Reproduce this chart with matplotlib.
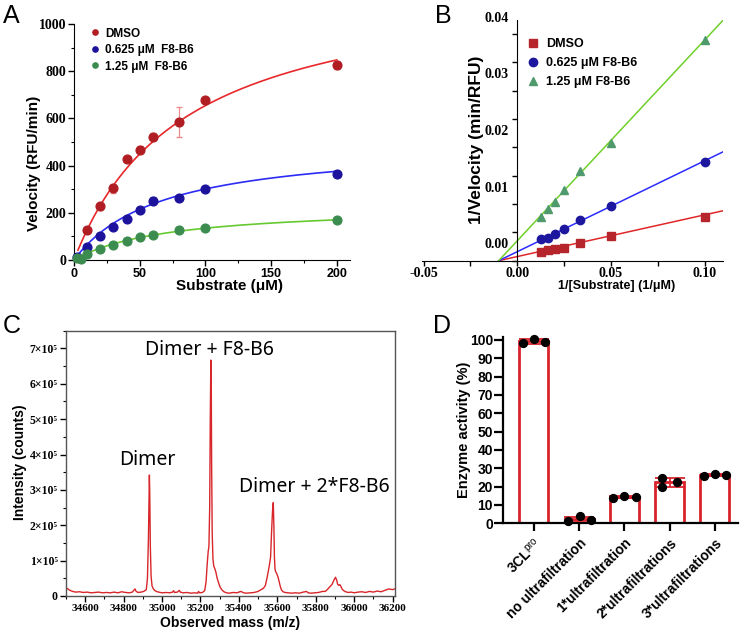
import numpy as np
import matplotlib
matplotlib.use('Agg')
import matplotlib.pyplot as plt
from matplotlib.ticker import MultipleLocator

plt.rcParams['font.family'] = ['Liberation Sans', 'DejaVu Sans']
plt.rcParams['mathtext.fontset'] = 'custom'
plt.rcParams['mathtext.rm'] = 'Liberation Sans'
plt.rcParams['mathtext.bf'] = 'Liberation Sans:bold'

W, H = 740, 633
SERIF = ['Liberation Serif', 'DejaVu Serif']

# ---------------- panel A : Michaelis-Menten ----------------
s_dmso = [10, 20, 30, 40, 50, 60, 80, 100, 200]
v_dmso = [128, 228, 303, 428, 468, 522, 585, 677, 826]
e_dmso = [6, 15, 18, 8, 15, 15, 62, 10, 18]
s_0625 = [2.5, 10, 20, 30, 40, 50, 60, 80, 100, 200]
v_0625 = [12, 55, 102, 140, 175, 210, 252, 263, 300, 365]
e_0625 = [2, 5, 6, 8, 5, 8, 14, 8, 6, 6]
s_125 = [2.5, 5, 10, 20, 30, 40, 50, 60, 80, 100, 200]
v_125 = [9, 4, 25, 47, 62, 80, 96, 108, 128, 135, 170]
e_125 = [2, 2, 4, 4, 4, 5, 6, 5, 6, 5, 5]
# fitted Vmax / Km of the curves
vmax_dmso, km_dmso = 1204, 84
vmax_0625, km_0625 = 501, 66.5
vmax_125, km_125 = 231, 71.4
labels_A = ['DMSO', '0.625 μM  F8-B6', '1.25 μM  F8-B6']

# ---------------- panel B : Lineweaver-Burk ----------------
inv_s = [0.0125, 0.01667, 0.02, 0.025, 0.03333, 0.05, 0.1]
inv_v_dmso = [0.00159, 0.00188, 0.00206, 0.00224, 0.00318, 0.00435, 0.00765]
inv_v_0625 = [0.00376, 0.00394, 0.0047, 0.00565, 0.00718, 0.0097, 0.01747]
inv_v_125 = [0.00776, 0.00918, 0.0103, 0.01247, 0.01588, 0.0207, 0.03894]
# fitted lines (slope, intercept)
fit_dmso = (0.0736, 0.00073)
fit_0625 = (0.1605, 0.00159)
fit_125 = (0.3545, 0.00351)
labels_B = ['DMSO', '0.625 μM F8-B6', '1.25 μM F8-B6']

# ---------------- panel C : deconvoluted mass spectrum ----------------
mass = [34500, 34510, 34520, 34535, 34550, 34570, 34590, 34610, 34630, 34650,
        34670, 34690, 34710, 34730, 34750, 34770, 34790, 34810, 34830, 34845,
        34853, 34859, 34865, 34875, 34890, 34905, 34918, 34924, 34929, 34932,
        34934, 34936, 34939, 34943, 34948, 34955, 34963, 34975, 34990, 35005,
        35020, 35040, 35055, 35060, 35065, 35080, 35090, 35095, 35110, 35130,
        35150, 35170, 35185, 35190, 35195, 35210, 35222, 35229, 35235, 35240,
        35244, 35248, 35251, 35254, 35256, 35258, 35261, 35265, 35269, 35274,
        35280, 35287, 35295, 35303, 35312, 35322, 35335, 35350, 35370, 35390,
        35410, 35425, 35440, 35460, 35480, 35500, 35515, 35528, 35538, 35548,
        35558, 35565, 35570, 35575, 35579, 35582, 35585, 35588, 35592, 35598,
        35604, 35610, 35616, 35622, 35630, 35640, 35655, 35675, 35695, 35715,
        35735, 35752, 35760, 35775, 35795, 35815, 35835, 35850, 35860, 35872,
        35885, 35895, 35903, 35909, 35914, 35920, 35926, 35932, 35938, 35946,
        35955, 35970, 35985, 36000, 36020, 36040, 36060, 36080, 36100, 36120,
        36140, 36160, 36180, 36200, 36210]
intensity_1e4 = [2.3, 2.0, 1.6, 1.3, 1.1, 1.2, 1.0, 1.1, 0.9, 1.0,
                 1.1, 0.9, 1.0, 0.9, 1.1, 0.9, 1.2, 1.0, 0.9, 1.1,
                 1.6, 2.0, 1.3, 1.0, 1.1, 1.3, 1.8, 5.0, 16, 28,
                 34.2, 29, 14, 5.5, 2.8, 2.0, 1.5, 1.2, 1.0, 0.9,
                 1.0, 0.9, 1.1, 1.5, 1.0, 1.1, 1.6, 1.1, 0.9, 1.0,
                 0.8, 0.9, 0.8, 1.3, 0.9, 1.0, 1.5, 4.0, 9.0, 12.5,
                 14, 25, 50, 66.7, 62, 38, 18, 10.5, 8.5, 7.8,
                 6.8, 5.0, 3.6, 2.4, 1.7, 1.2, 0.9, 0.8, 1.0, 0.9,
                 1.3, 0.9, 0.8, 0.9, 1.0, 1.3, 1.8, 2.2, 3.0, 5.5,
                 8.5, 11, 18, 24, 26.4, 20, 11, 7.5, 6.8, 6.2,
                 5.3, 4.0, 2.6, 1.7, 1.2, 1.0, 0.9, 0.8, 0.9, 0.8,
                 1.1, 1.3, 0.9, 0.8, 0.9, 1.0, 1.3, 1.3, 1.8, 2.5,
                 3.3, 4.5, 5.3, 4.5, 3.3, 3.0, 3.2, 2.6, 1.9, 1.5,
                 1.2, 1.0, 1.1, 0.9, 1.1, 1.2, 1.0, 1.3, 1.1, 1.4,
                 1.2, 1.6, 2.0, 1.8, 2.0]
peak_labels = ['Dimer', 'Dimer + F8-B6', 'Dimer + 2*F8-B6']
peak_label_xy = [(34924, 3.84e5), (35249, 6.95e5), (35792, 3.09e5)]

# ---------------- panel D : enzyme activity ----------------
groups = ['3CL$^{\\mathrm{pro}}$', 'no ultrafiltration', '1*ultrafiltration',
          '2*ultrafiltrations', '3*ultrafiltrations']
activity = [[98.2, 100.8, 98.9],
            [1.5, 3.8, 1.8],
            [13.8, 15.0, 14.3],
            [24.8, 20.0, 22.5],
            [26.0, 26.7, 26.4]]
jitter = [[-0.245, 0.0, 0.25],
          [-0.24, 0.02, 0.27],
          [-0.24, 0.0, 0.25],
          [-0.16, -0.16, 0.17],
          [-0.24, 0.0, 0.25]]

RED_D = '#d9232b'


def add_axes_px(fig, left, top, right, bottom):
    return fig.add_axes([left / W, 1 - bottom / H, (right - left) / W, (bottom - top) / H])


fig = plt.figure(figsize=(W / 100, H / 100), dpi=100)

# ======================= A =======================
axA = add_axes_px(fig, 74, 24, 350, 260)
series_A = [(s_dmso, v_dmso, e_dmso, vmax_dmso, km_dmso, '#b01e24', '#e8282a', '#eb8c8c', 3),
            (s_0625, v_0625, e_0625, vmax_0625, km_0625, '#1d129c', '#2b2bf5', '#8f8fe0', 1),
            (s_125, v_125, e_125, vmax_125, km_125, '#3c8c50', '#66c930', '#90c89a', 1)]
for (s, v, e, vm, km, pc, lc, ec, s0), lab in zip(series_A, labels_A):
    xs = np.linspace(s0, 200, 200)
    axA.plot(xs, vm * xs / (km + xs), color=lc, lw=1.2, zorder=2)
    axA.errorbar(s, v, yerr=e, fmt='none', ecolor=ec, elinewidth=0.9, capsize=2.5, zorder=3)
    axA.plot(s, v, 'o', color=pc, ms=6.3, mec=pc, label=lab, zorder=4, clip_on=False)
axA.set_xlim(0, 210)
axA.set_ylim(0, 1000)
for sp in ['top', 'right']:
    axA.spines[sp].set_visible(False)
axA.xaxis.set_minor_locator(MultipleLocator(25))
axA.yaxis.set_minor_locator(MultipleLocator(100))
axA.set_xticks([0, 50, 100, 150, 200], ['0', '50', '100', '150', '200'],
               fontsize=9, fontweight='bold')
axA.set_yticks([0, 200, 400, 600, 800, 1000], ['0', '200', '400', '600', '800', '1000'],
               fontsize=10, fontweight='bold', fontfamily=SERIF)
axA.tick_params(which='major', length=4, width=1, pad=1.5)
axA.tick_params(which='minor', length=2.5, width=0.8)
axA.set_xlabel('Substrate (μM)', fontsize=11, fontweight='bold')
axA.set_ylabel('Velocity (RFU/min)', fontsize=11, fontweight='bold')
axA.xaxis.set_label_coords(0.5616, -0.08)
axA.yaxis.set_label_coords(-0.12, 0.41)
axA.legend(loc='upper left', bbox_to_anchor=(0.02, 1.03), frameon=False, markerscale=0.6,
           handlelength=0.8, handletextpad=0.5, labelspacing=0.38,
           prop={'weight': 'bold', 'size': 8.5})

# ======================= B =======================
axB = add_axes_px(fig, 421.7, 20, 723.3, 260.7)
series_B = [(inv_v_dmso, fit_dmso, 's', '#b5252b', '#e0272a', 5.5),
            (inv_v_0625, fit_0625, 'o', '#1d169f', '#2b2bff', 6),
            (inv_v_125, fit_125, '^', '#4f9a6c', '#6fd02a', 6)]
for (iv, (m, b), mk, pc, lc, ms), lab in zip(series_B, labels_B):
    xs = np.array([-b / m, 0.11])
    axB.plot(xs, m * xs + b, color=lc, lw=1.1, zorder=2)
    axB.plot(inv_s, iv, mk, color=pc, ms=ms, label=lab, zorder=4)
axB.set_xlim(-0.051, 0.11)
axB.set_ylim(0, 0.0425)
axB.spines['top'].set_visible(False)
axB.spines['right'].set_visible(False)
axB.spines['left'].set_position(('data', 0))
axB.xaxis.set_minor_locator(MultipleLocator(0.025))
axB.set_xticks([-0.05, 0, 0.05, 0.10], ['-0.05', '0.00', '0.05', '0.10'],
               fontsize=10, fontweight='bold', fontfamily=SERIF)
yt = [0, 0.01, 0.02, 0.03, 0.04]
axB.set_yticks(yt, [''] * len(yt))
axB.yaxis.set_minor_locator(MultipleLocator(0.005))
for y in yt:
    # labels in the original sit a little above their ticks
    axB.text(-0.0045, y + 0.0028, '%.2f' % y, ha='right', va='center', fontsize=10,
             fontweight='bold', family=SERIF)
axB.tick_params(which='both', length=3.5, width=1, pad=1)
axB.set_xlabel('1/[Substrate] (1/μM)', fontsize=9, fontweight='bold')
axB.set_ylabel('1/Velocity (min/RFU)', fontsize=12.5, fontweight='bold')
axB.xaxis.set_label_coords(0.6466, -0.08)
axB.yaxis.set_label_coords(0.2066, 0.5015)
axB.legend(loc='upper left', bbox_to_anchor=(0.31, 0.97), frameon=False,
           handlelength=1.0, handletextpad=0.6, labelspacing=0.55,
           prop={'weight': 'bold', 'size': 9})

# ======================= C =======================
axC = add_axes_px(fig, 66, 330.7, 394.5, 596)
axC.plot(mass, np.array(intensity_1e4) * 1e4, color='#d8262a', lw=1)
axC.set_xlim(34500, 36210)
axC.set_ylim(0, 7.5e5)
for sp in axC.spines.values():
    sp.set_color('#555555')
    sp.set_linewidth(1)
axC.set_xticks(list(range(34600, 36201, 200)), [str(v) for v in range(34600, 36201, 200)],
               fontsize=8, fontweight='bold', fontfamily=SERIF)
ytc = [i * 1e5 for i in range(8)]
axC.set_yticks(ytc, ['0'] + ['%d×10⁵' % i for i in range(1, 8)],
               fontsize=8.5, fontweight='bold', fontfamily=SERIF)
axC.xaxis.set_minor_locator(MultipleLocator(100))
axC.yaxis.set_minor_locator(MultipleLocator(0.5e5))
axC.tick_params(which='major', length=4, width=1, pad=2)
axC.tick_params(which='minor', length=2.5, width=0.8)
for lab, (x, y) in zip(peak_labels, peak_label_xy):
    axC.text(x, y, lab, ha='center', va='center', fontsize=14,
             family=['Noto Sans', 'DejaVu Sans'])
axC.set_xlabel('Observed mass (m/z)', fontsize=10, fontweight='bold')
axC.set_ylabel('Intensity (counts)', fontsize=10, fontweight='bold')
axC.xaxis.set_label_coords(0.499, -0.075)
axC.yaxis.set_label_coords(-0.119, 0.506)

# ======================= D =======================
axD = add_axes_px(fig, 503.3, 336.7, 738.3, 523.3)
xd = np.arange(len(groups))
means = [np.mean(a) for a in activity]
sds = [np.std(a, ddof=1) for a in activity]
axD.bar(xd, means, width=0.64, facecolor='white', edgecolor=RED_D, linewidth=2, zorder=2)
axD.errorbar(xd, means, yerr=sds, fmt='none', ecolor=RED_D, elinewidth=1.3,
             capsize=11, capthick=1.3, zorder=3)
for i, (vals, jit) in enumerate(zip(activity, jitter)):
    axD.scatter(i + np.array(jit), vals, s=32, color='black', zorder=4, clip_on=False)
axD.set_xlim(-0.674, 4.52)
axD.set_ylim(0, 101.8)
for sp in ['top', 'right']:
    axD.spines[sp].set_visible(False)
for sp in ['left', 'bottom']:
    axD.spines[sp].set_linewidth(1.6)
axD.set_yticks(list(range(0, 101, 10)), [str(v) for v in range(0, 101, 10)],
               fontsize=10, fontweight='bold')
axD.set_xticks(xd, groups, fontsize=10, fontweight='bold', rotation=45,
               ha='right', rotation_mode='anchor')
axD.tick_params(axis='y', length=6.5, width=1.6, pad=1)
axD.tick_params(axis='x', length=6, width=1.6, pad=3)
axD.set_ylabel('Enzyme activity (%)', fontsize=10.5, fontweight='bold')
axD.yaxis.set_label_coords(-0.137, 0.5)

# panel letters
for txt, x, y in [('A', 3, 23), ('B', 435, 23), ('C', 3, 333), ('D', 433, 333)]:
    fig.text(x / W, 1 - y / H, txt, fontsize=18, va='baseline', ha='left')

fig.savefig('out.png', dpi=100)
